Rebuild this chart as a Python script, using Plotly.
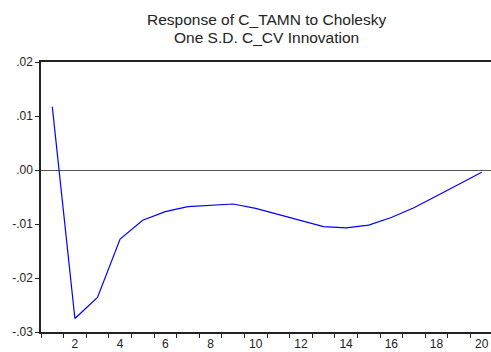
import plotly.graph_objects as go

periods = list(range(1, 21))
response = [0.0117, -0.0275, -0.0236, -0.0128, -0.0093, -0.0077, -0.0068, -0.0065,
            -0.0063, -0.0071, -0.0082, -0.0094, -0.0105, -0.0107, -0.0102, -0.0088,
            -0.0070, -0.0048, -0.0026, -0.0004]
y_ticks = [0.02, 0.01, 0.0, -0.01, -0.02, -0.03]
y_labels = [".02", ".01", ".00", "-.01", "-.02", "-.03"]
x_ticks = [2, 4, 6, 8, 10, 12, 14, 16, 18, 20]
title_lines = ["Response of C_TAMN to Cholesky", "One S.D. C_CV Innovation"]

fig = go.Figure()
fig.add_trace(go.Scatter(x=periods, y=response, mode="lines",
                         line=dict(color="#0000ff", width=1.2), showlegend=False))

for i, (txt, ypos) in enumerate(zip(title_lines, [1 + 43 / 270, 1 + 25 / 270])):
    fig.add_annotation(text=txt, xref="paper", yref="paper", x=0.5, y=ypos,
                       xanchor="center", yanchor="middle", showarrow=False,
                       font=dict(size=15.5, color="#222"))

fig.update_layout(
    width=491, height=352,
    margin=dict(l=41, r=0, t=62, b=20),
    paper_bgcolor="white", plot_bgcolor="white",
    font=dict(family="Liberation Sans, Arial, sans-serif", color="#222", size=12),
)
fig.update_xaxes(
    range=[0.5, 0.5 + 450 / 22.6], tickvals=x_ticks, ticktext=[str(v) for v in x_ticks],
    ticks="", ticklen=0, showgrid=False, zeroline=False,
    showline=True, linecolor="#222", linewidth=1.5, mirror=True,
    tickfont=dict(size=12),
    minor=dict(ticks="outside", tick0=0.5, dtick=1, ticklen=4, tickcolor="#222", tickwidth=1, showgrid=False),
)
fig.update_yaxes(
    range=[-0.03, 0.02], tickvals=y_ticks, ticktext=y_labels,
    ticks="outside", ticklen=4, tickcolor="#222", showgrid=False,
    zeroline=True, zerolinecolor="#555", zerolinewidth=1,
    showline=True, linecolor="#222", linewidth=1.5, mirror=False,
    tickfont=dict(size=12),
)

fig.write_html("out.html")
